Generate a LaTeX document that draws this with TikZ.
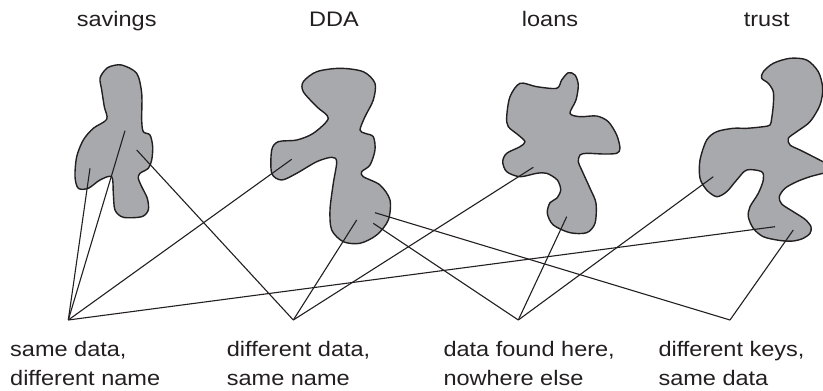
\documentclass[tikz,border=0pt]{standalone}
\usepackage{fontspec}
\setmainfont{Liberation Sans}[FakeStretch=1.12]
\definecolor{blobgray}{RGB}{167,169,172}
\definecolor{ink}{RGB}{35,31,32}
\begin{document}
\begin{tikzpicture}[x=1pt,y=-1pt,
  blob/.style={fill=blobgray,draw=ink,line width=1.4pt,line join=round},
  link/.style={draw=ink,line width=1.1pt},
  title/.style={anchor=base,inner sep=0pt,text=ink,font=\fontsize{21}{28.3}\selectfont},
  lbl/.style={anchor=base west,inner sep=0pt,align=left,text=ink,font=\fontsize{21}{28.3}\selectfont}]
\useasboundingbox (0,0) rectangle (823,391);
\clip (0,0) rectangle (823,391);

% account names
\node[title] (tSav)   at (116.7,26.7) {savings};
\node[title] (tDDA)   at (334,26.7)   {DDA};
\node[title] (tLoans) at (550,26.7)   {loans};
\node[title] (tTrust) at (766.7,26.7) {trust};

% savings
\draw[blob] plot[smooth cycle] coordinates {
  (121.7,65) (136.7,73.3) (141.7,93.3) (141.7,120) (143.3,131.7) (150,135)
  (152.7,146.7) (151.7,160) (148.3,168.3) (140,173.3) (138.3,178.3)
  (141.7,186.7) (147.3,198.3) (148.3,210) (141.7,216.7) (123.3,217.3)
  (115,210) (113.3,193.3) (111.7,176.7) (100,180) (88.3,188.3) (78.3,188.3)
  (75,176.7) (76.7,156.7) (83.3,140) (93.3,128.3) (106.7,119.3)
  (104.3,106.7) (101.7,90) (100,78.3) (105,70) (110,66.5)};

% DDA
\draw[blob] plot[smooth cycle] coordinates {
  (303.3,81.7) (316.7,71.7) (340,68.3) (363.3,71.7) (375,83.3) (373.3,100)
  (365,116.7) (360,130) (365,133.3) (373.3,136.7) (375,150) (370,165)
  (361.7,171.7) (363.3,176.7) (380,185) (390,200) (388.3,220) (376.7,235)
  (360,243.3) (343.3,241.7) (331.7,230) (330,210) (333.3,183.3)
  (336.7,161.7) (331.7,157.3) (316.7,161.7) (296.7,173.3) (281.7,180)
  (271.7,173.3) (271.7,150) (278.3,141.7) (296.7,140) (313.3,133.3)
  (328.3,118.3) (316.7,106.7) (303.3,91.7)};

% loans
\draw[blob] plot[smooth cycle] coordinates {
  (520,83.3) (536.7,86.7) (556.7,88.3) (561.7,80) (568.3,72.7) (575,75)
  (578.3,85) (576,100) (570,113.3) (580,116.7) (596.7,116) (608.3,121.7)
  (616.7,135) (620,148.3) (616.7,153.3) (603.3,154) (586.7,153.3) (580,155)
  (578.3,161.7) (581.7,170) (590,188.3) (596,203.3) (595,223.3)
  (586.7,232.7) (570,232.7) (553.3,225) (547.3,213.3) (550,202.7)
  (556.7,198.3) (560.7,190) (557.3,180) (546.7,173.3) (536.7,173.3)
  (520,176.7) (506.7,171.7) (502.7,161.7) (506.7,153.3) (520,146.7)
  (525,141.7) (518.3,135) (508.3,126.7) (506.7,116.7) (510,96.7)};

% trust
\draw[blob] plot[smooth cycle] coordinates {
  (763.3,71.7) (773.3,63.3) (790,58.3) (806.7,60) (818.3,71.7) (822.7,88.3)
  (820,105) (810,121.7) (796.7,131.7) (788.3,138.3) (790,145) (800,150)
  (813.3,156.7) (823,161.7) (832,166) (832,171) (823,173.3) (810,176.7)
  (796.7,181.7) (785,188.3) (779.3,196.7) (781.7,204) (793.3,211.7)
  (805,219.3) (811,226.7) (810,233.3) (803.3,238.3) (793.3,241) (780,240.5)
  (763.3,236.7) (753.3,228.3) (748.3,216.7) (750,206.7) (758.3,193.3)
  (763.3,180) (761.7,171.7) (746.7,170) (736.7,180) (726.7,191.7)
  (716.7,196.7) (706.7,190) (700,178.3) (700,160) (706.7,140) (716.7,131.7)
  (733.3,128.3) (746.7,128.3) (763.3,126.7) (770,125) (771.7,118.3)
  (773.3,105) (773.3,91.7) (768.3,83.3) (761.7,78.3)};

% points inside the accounts
\coordinate (savA)   at (90,168.3);
\coordinate (savB)   at (125,130.7);
\coordinate (savC)   at (136.7,150);
\coordinate (ddaA)   at (291.7,159.3);
\coordinate (ddaB)   at (356.7,220);
\coordinate (ddaC)   at (375,212.7);
\coordinate (ddaD)   at (373.3,223.3);
\coordinate (loanA)  at (533.3,167.3);
\coordinate (loanB)  at (566.7,216.7);
\coordinate (trustA) at (713.3,176.7);
\coordinate (trustC) at (775,226.7);
\coordinate (trustD) at (793.3,230);

% meeting points above the captions
\coordinate (hubSame)  at (68.3,320);
\coordinate (hubDiff)  at (293.3,320);
\coordinate (hubFound) at (518.3,320);
\coordinate (hubKeys)  at (730,320);

% connectors
\draw[link] (hubSame) -- (savA);
\draw[link] (hubSame) -- (savB);
\draw[link] (hubSame) -- (ddaA);
\draw[link] (hubSame) -- (trustC);
\draw[link] (hubDiff) -- (savC);
\draw[link] (hubDiff) -- (ddaB);
\draw[link] (hubDiff) -- (loanA);
\draw[link] (hubFound) -- (ddaD);
\draw[link] (hubFound) -- (loanB);
\draw[link] (hubFound) -- (trustA);
\draw[link] (hubKeys) -- (ddaC);
\draw[link] (hubKeys) -- (trustD);

% captions (anchored on the baseline of the second line)
\node[lbl] (cSame)  at (10,385)    {same data,\\different name};
\node[lbl] (cDiff)  at (226.7,385) {different data,\\same name};
\node[lbl] (cFound) at (443.3,385) {data found here,\\nowhere else};
\node[lbl] (cKeys)  at (658.3,385) {different keys,\\same data};
\end{tikzpicture}
\end{document}
